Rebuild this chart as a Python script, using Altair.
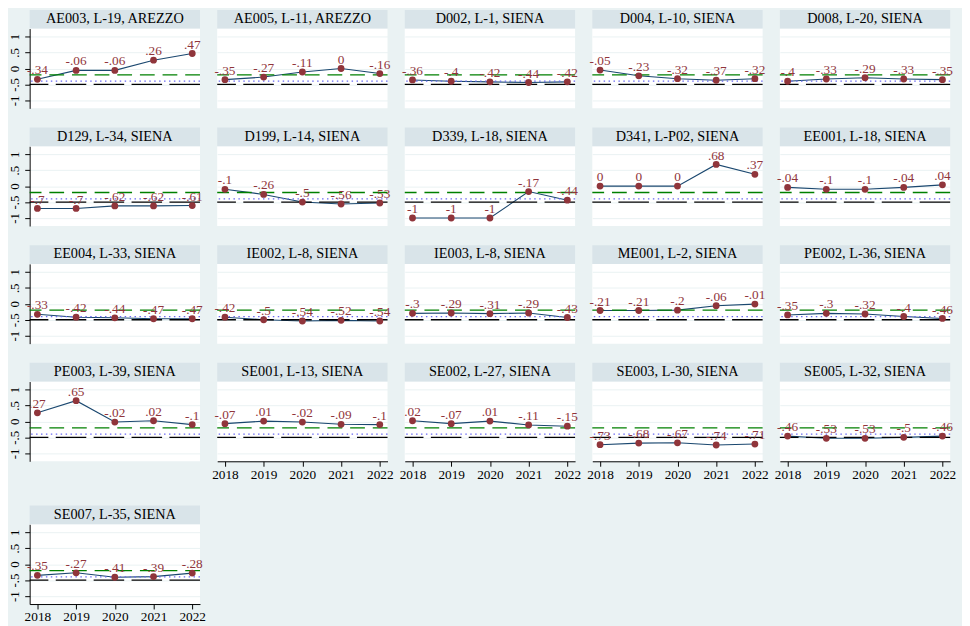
import altair as alt
import pandas as pd

# ---------------- data ----------------
years = [2018, 2019, 2020, 2021, 2022]

panels = [
    "AE003, L-19, AREZZO", "AE005, L-11, AREZZO", "D002, L-1, SIENA", "D004, L-10, SIENA", "D008, L-20, SIENA",
    "D129, L-34, SIENA", "D199, L-14, SIENA", "D339, L-18, SIENA", "D341, L-P02, SIENA", "EE001, L-18, SIENA",
    "EE004, L-33, SIENA", "IE002, L-8, SIENA", "IE003, L-8, SIENA", "ME001, L-2, SIENA", "PE002, L-36, SIENA",
    "PE003, L-39, SIENA", "SE001, L-13, SIENA", "SE002, L-27, SIENA", "SE003, L-30, SIENA", "SE005, L-32, SIENA",
    "SE007, L-35, SIENA",
]

ae003 = [-0.34, -0.06, -0.06, 0.26, 0.47]
ae005 = [-0.35, -0.27, -0.11, 0.0, -0.16]
d002 = [-0.36, -0.40, -0.42, -0.44, -0.42]
d004 = [-0.05, -0.23, -0.32, -0.37, -0.32]
d008 = [-0.40, -0.33, -0.29, -0.33, -0.35]
d129 = [-0.70, -0.70, -0.62, -0.62, -0.61]
d199 = [-0.10, -0.26, -0.50, -0.56, -0.53]
d339 = [-1.0, -1.0, -1.0, -0.17, -0.44]
d341 = [0.0, 0.0, 0.0, 0.68, 0.37]
ee001 = [-0.04, -0.10, -0.10, -0.04, 0.04]
ee004 = [-0.33, -0.42, -0.44, -0.47, -0.47]
ie002 = [-0.42, -0.50, -0.54, -0.52, -0.54]
ie003 = [-0.30, -0.29, -0.31, -0.29, -0.43]
me001 = [-0.21, -0.21, -0.20, -0.06, -0.01]
pe002 = [-0.35, -0.30, -0.32, -0.40, -0.46]
pe003 = [0.27, 0.65, -0.02, 0.02, -0.10]
se001 = [-0.07, 0.01, -0.02, -0.09, -0.10]
se002 = [0.02, -0.07, 0.01, -0.11, -0.15]
se003 = [-0.73, -0.68, -0.67, -0.74, -0.71]
se005 = [-0.46, -0.53, -0.53, -0.50, -0.46]
se007 = [-0.35, -0.27, -0.41, -0.39, -0.28]

series = [ae003, ae005, d002, d004, d008, d129, d199, d339, d341, ee001,
          ee004, ie002, ie003, me001, pe002, pe003, se001, se002, se003, se005, se007]

ref_green = -0.2
ref_blue = -0.4
ref_black = -0.5
y_ticks = [-1, -0.5, 0, 0.5, 1]

# ---------------- styling ----------------
BG = "#EAF2F3"
HEADER = "#D9E4E9"
NAVY = "#1A476F"
MAROON = "#90353B"
FONT = "Liberation Serif"
W, H = 173, 81
HEAD_H = 19
COL_GAP = 17.5
ROW_GAP = 19.5
LAST_ROW_GAP = 25.5


def stata_fmt(v):
    if v == 0:
        return "0"
    s = f"{abs(v):g}"
    if s.startswith("0."):
        s = s[1:]
    return ("-" if v < 0 else "") + s


rows = []
for name, vals in zip(panels, series):
    for yr, v in zip(years, vals):
        rows.append({"panel": name, "year": yr, "value": v, "label": stata_fmt(v)})
df = pd.DataFrame(rows)


def make_panel(idx, show_y, show_x):
    name = panels[idx]
    d = df[df.panel == name]
    base = alt.Chart(d)

    xscale = alt.Scale(domain=[2017.8, 2022.2], nice=False, zero=False)
    yscale = alt.Scale(domain=[-1.25, 1.25], nice=False, zero=False)

    if show_x:
        xaxis = alt.Axis(values=years, format="d", title=None, grid=False, domain=True,
                         domainColor="black", tickColor="black", tickSize=5, labelFont=FONT,
                         labelFontSize=13.5, labelColor="black", labelPadding=1,
                         labelFlush=False, labelOverlap=False)
    else:
        xaxis = None
    if show_y:
        yaxis = alt.Axis(values=y_ticks, title=None, grid=True, gridColor=BG, domain=True,
                         domainColor="black", tickColor="black", tickSize=5, labelFont=FONT,
                         labelFontSize=13, labelColor="black", labelAngle=270, labelAlign="center",
                         labelBaseline="bottom", labelPadding=3,
                         labelExpr="(datum.value < 0 ? '-' : '') + replace(toString(abs(datum.value)), '0.', '.')")
    else:
        yaxis = alt.Axis(values=y_ticks, title=None, grid=True, gridColor=BG, domain=False,
                         ticks=False, labels=False)

    x = alt.X("year:Q", scale=xscale, axis=xaxis)
    y = alt.Y("value:Q", scale=yscale, axis=yaxis)

    first = base.transform_filter("datum.year == 2018")

    head_rect = first.mark_rect(color=HEADER).encode(
        x=alt.value(0), x2=alt.value(W), y=alt.value(-HEAD_H), y2=alt.value(0))
    head_text = first.mark_text(font=FONT, fontSize=14.5, color="black", baseline="middle",
                                align="center").encode(
        x=alt.value(W / 2), y=alt.value(-HEAD_H / 2), text="panel:N")

    g = first.mark_rule(color="#008000", strokeWidth=1.3, strokeDash=[15, 8]).encode(
        y=alt.Y(datum=ref_green, scale=yscale, axis=yaxis))
    b = first.mark_rule(color="#6868F2", strokeWidth=1.3, strokeDash=[1.5, 3.5]).encode(
        y=alt.Y(datum=ref_blue, scale=yscale, axis=yaxis))
    k = first.mark_rule(color="black", strokeWidth=1.4, strokeDash=[31, 7.5]).encode(
        y=alt.Y(datum=ref_black, scale=yscale, axis=yaxis))

    line = base.mark_line(color=NAVY, strokeWidth=1.1).encode(x=x, y=y)
    pts = base.mark_circle(size=48, color=MAROON, opacity=1).encode(x=x, y=y)
    labels = base.mark_text(font=FONT, fontSize=13.5, color=MAROON, baseline="alphabetic",
                            align="center", dy=-5).encode(x=x, y=y, text="label:N")

    return alt.layer(line, g, b, k, pts, labels, head_rect, head_text).properties(width=W, height=H)


n = len(panels)
ncol = 5
grid_rows = []
for r in range(0, n, ncol):
    cells = []
    for c in range(ncol):
        i = r + c
        if i >= n:
            break
        show_x = (i + ncol) >= n
        cells.append(make_panel(i, c == 0, show_x))
    grid_rows.append(alt.hconcat(*cells, spacing=COL_GAP, bounds="flush"))

top = alt.vconcat(*grid_rows[:-1], spacing=ROW_GAP, bounds="full")
chart = alt.vconcat(top, grid_rows[-1], spacing=LAST_ROW_GAP, bounds="full").properties(
    background=BG,
    padding={"left": 0, "top": -3, "right": 6, "bottom": 6},
).configure_view(stroke=None, fill="white").configure_axis(labelFont=FONT)

chart.save("out.html", embed_options={"renderer": "svg", "actions": False})
